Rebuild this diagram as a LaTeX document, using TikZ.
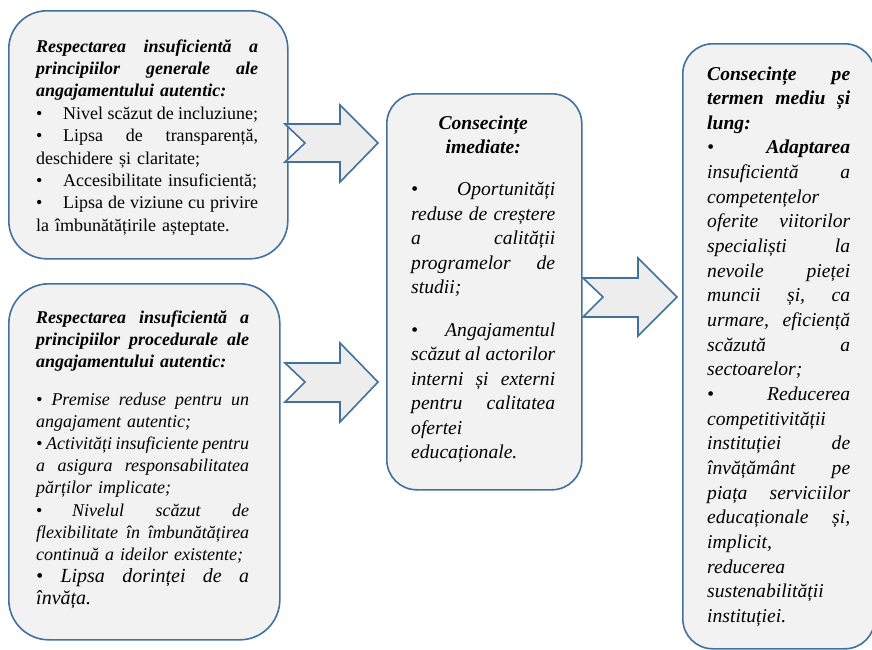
\documentclass[tikz,border=0pt]{standalone}
\usepackage{fontspec}
\setmainfont{Liberation Serif}[UprightFont=*, BoldFont=* Bold, ItalicFont=* Italic, BoldItalicFont=* Bold Italic]
\definecolor{bordercol}{HTML}{41719C}
\definecolor{boxfill}{HTML}{F2F2F2}
\definecolor{arrfill}{HTML}{EDEDED}
\newlength{\tw}
\def\Jx#1 #2\relax{#1\ifx&#2&\else\hskip .25em plus 1fil minus .06em\Jx#2\relax\fi}
\newcommand{\J}[1]{\leavevmode\hbox to\tw{\Jx#1 \relax}}
\newcommand{\C}[1]{\makebox[\tw][c]{#1}}
\newcommand{\Bu}[1]{\makebox[#1][l]{•}}
\newcommand{\bi}{\bfseries\itshape}
\tikzset{
  boxshape/.style={draw=bordercol, fill=boxfill, line width=1.6pt, rounded corners=#1, anchor=north west, inner sep=0pt},
  txt/.style={anchor=base west, inner sep=0pt, align=left},
  arrowshape/.style={draw=bordercol, fill=arrfill, line width=1.6pt, line join=miter}
}
\begin{document}
\begin{tikzpicture}[x=1pt,y=-1pt]
\useasboundingbox (0,0) rectangle (872,649);
% boxes
\node[boxshape=38pt, minimum width=279pt, minimum height=248pt] (b1) at (8,10) {};
\node[boxshape=40pt, minimum width=271pt, minimum height=356pt] (b2) at (8,283) {};
\node[boxshape=30pt, minimum width=195pt, minimum height=396pt] (b3) at (386,93) {};
\node[boxshape=30pt, minimum width=192pt, minimum height=605pt] (b4) at (682,43) {};
% texts
\node[txt, text width=222pt, font=\setlength{\tw}{222pt}\fontsize{18}{22.4}\selectfont] (t1) at (36,52) {%
\J{\bi Respectarea insuficientă a}\\
\J{\bi principiilor generale ale}\\
{\bi angajamentului autentic:}\\
\J{\Bu{27pt}Nivel scăzut de incluziune;}\\
\J{\Bu{27pt}Lipsa de transparență,}\\
deschidere și claritate;\\
\Bu{27pt}Accesibilitate insuficientă;\\
\J{\Bu{27pt}Lipsa de viziune cu privire}\\
la îmbunătățirile așteptate.};
\node[txt, text width=213pt, font=\setlength{\tw}{213pt}\fontsize{18}{22.2}\selectfont] (t2) at (36,323) {%
\J{\bi Respectarea insuficientă a}\\
\J{\bi principiilor procedurale ale}\\
{\bi angajamentului autentic:}\\[15.5pt]
\J{\itshape • Premise reduse pentru un}\\
{\itshape angajament autentic;}\\
\J{\itshape • Activități insuficiente pentru}\\
\J{\itshape a asigura responsabilitatea}\\
{\itshape părților implicate;}\\
\J{\Bu{36pt}\itshape Nivelul scăzut de}\\
\J{\itshape flexibilitate în îmbunătățirea}\\
{\itshape continuă a ideilor existente;}\\
\J{\fontsize{20}{22.2}\selectfont\itshape • Lipsa dorinței de a}\\
{\fontsize{20}{22.2}\selectfont\itshape învăța.}};
\node[txt, text width=144pt, font=\setlength{\tw}{144pt}\fontsize{19.6}{24.5}\selectfont\itshape] (t3) at (411,129) {%
\C{\bi Consecințe}\\
\C{\bi imediate:}\\[17.5pt]
\J{\Bu{20pt} Oportunități}\\
\J{reduse de creștere}\\
\J{a calității}\\
\J{programelor de}\\
studii;\\[18pt]
\J{\Bu{20pt} Angajamentul}\\
\J{scăzut al actorilor}\\
\J{interni și externi}\\
\J{pentru calitatea}\\
ofertei\\
educaționale.};
\node[txt, text width=143pt, font=\setlength{\tw}{143pt}\fontsize{19.6}{24.65}\selectfont\itshape] (t4) at (707,80) {%
\J{\bi Consecințe pe}\\
\J{\bi termen mediu și}\\
{\bi lung:}\\
\J{\Bu{20pt} \bi Adaptarea}\\
\J{insuficientă a}\\
competențelor\\
\J{oferite viitorilor}\\
\J{specialiști la}\\
\J{nevoile pieței}\\
\J{muncii și, ca}\\
\J{urmare, eficiență}\\
\J{scăzută a}\\
sectoarelor;\\
\J{\Bu{20pt} Reducerea}\\
competitivității\\
\J{instituției de}\\
\J{învățământ pe}\\
\J{piața serviciilor}\\
\J{educaționale și,}\\
implicit,\\
reducerea\\
sustenabilității\\
instituției.};
% arrows
\coordinate (a1) at (285,143);
\coordinate (a2) at (285,382);
\coordinate (a3) at (583,297);
\draw[arrowshape] (a1) ++(0,-19) -- ++(55,0) -- ++(0,-19) -- ++(38,38) -- ++(-38,39) -- ++(0,-20) -- ++(-55,0) -- ++(20,-19) -- cycle;
\draw[arrowshape] (a2) ++(0,-19) -- ++(55,0) -- ++(0,-20) -- ++(38,39) -- ++(-38,40) -- ++(0,-20) -- ++(-55,0) -- ++(20,-20) -- cycle;
\draw[arrowshape] (a3) ++(0,-19) -- ++(55,0) -- ++(0,-20) -- ++(39,39) -- ++(-39,39) -- ++(0,-19) -- ++(-55,0) -- ++(20,-20) -- cycle;
\end{tikzpicture}
\end{document}
